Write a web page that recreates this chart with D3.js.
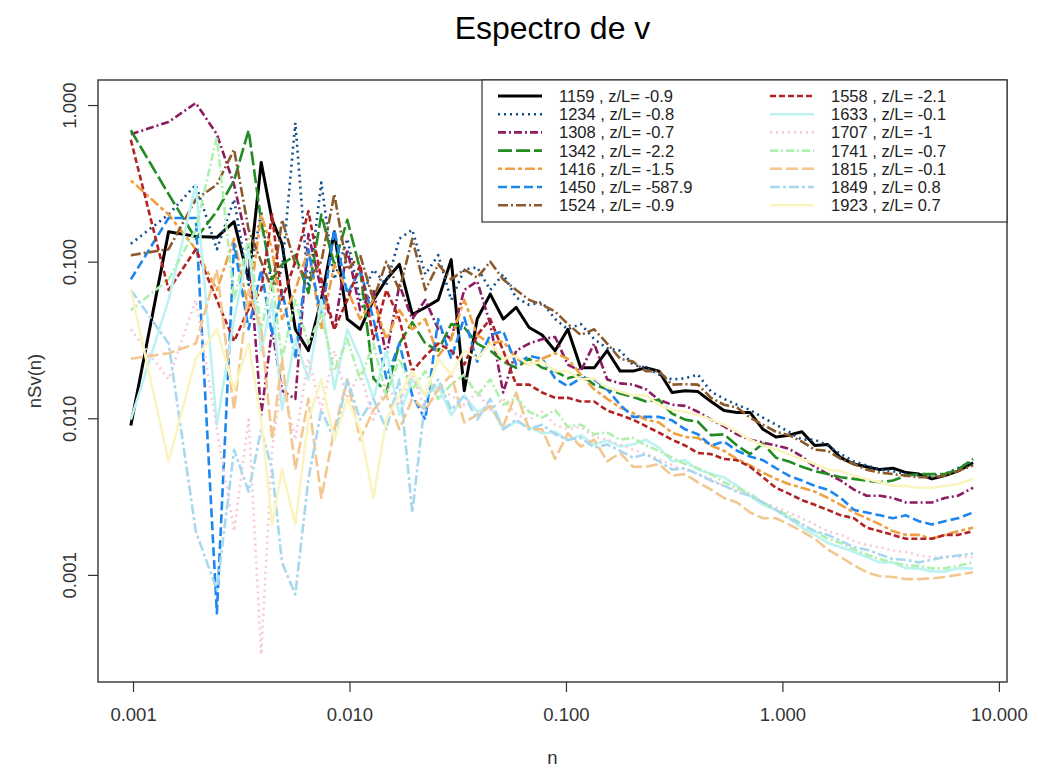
<!DOCTYPE html>
<html>
<head>
<meta charset="utf-8">
<script src="https://cdn.jsdelivr.net/npm/d3@7"></script>
<style>
  body { margin: 0; background: #ffffff; }
  svg { display: block; }
  text { font-family: "Liberation Sans", Arial, sans-serif; }
</style>
</head>
<body>
<svg id="chart" width="1038" height="769"></svg>
<script>
// Frequencies n shared by every spectrum
const freq = [0.000977,0.00146,0.00195,0.00244,0.00293,0.00342,0.00391,0.00439,0.00488,0.00562,
  0.00646,0.00741,0.00851,0.00977,0.0112,0.0129,0.0148,0.0170,0.0195,0.0224,
  0.0257,0.0295,0.0339,0.0389,0.0447,0.0513,0.0589,0.0676,0.0776,0.0891,
  0.102,0.117,0.135,0.155,0.178,0.204,0.234,0.269,0.309,0.355,
  0.407,0.468,0.537,0.617,0.708,0.813,0.933,1.07,1.23,1.41,
  1.62,1.86,2.14,2.45,2.82,3.24,3.72,4.27,4.90,5.62,
  6.46,7.60];

// nSv(n) for each run
const s1159 = [0.009,0.155,0.145,0.143,0.18,0.077,0.43,0.185,0.13,0.037,
  0.027,0.057,0.155,0.043,0.037,0.057,0.077,0.096,0.046,0.051,
  0.057,0.103,0.015,0.043,0.062,0.043,0.051,0.038,0.034,0.027,
  0.037,0.021,0.021,0.027,0.020,0.020,0.021,0.020,0.0146,0.015,
  0.0148,0.0128,0.0112,0.0109,0.0109,0.0085,0.0076,0.0078,0.0082,0.0067,
  0.0068,0.0056,0.0051,0.0049,0.0047,0.0048,0.0045,0.0044,0.0041,0.0043,
  0.0046,0.0052];
const s1234 = [0.13,0.20,0.31,0.12,0.25,0.071,0.21,0.066,0.089,0.77,
  0.066,0.32,0.077,0.14,0.057,0.089,0.071,0.14,0.16,0.083,
  0.11,0.057,0.089,0.092,0.066,0.083,0.059,0.053,0.055,0.043,
  0.037,0.040,0.032,0.028,0.027,0.022,0.021,0.019,0.0177,0.018,
  0.019,0.0148,0.0133,0.0122,0.0113,0.0101,0.0091,0.0082,0.0073,0.0073,
  0.0067,0.0059,0.0053,0.0050,0.0047,0.0046,0.0044,0.0043,0.0043,0.0044,
  0.0048,0.0053];
const s1308 = [0.65,0.78,1.03,0.65,0.31,0.12,0.0105,0.037,0.015,0.0133,
  0.15,0.066,0.037,0.12,0.049,0.066,0.025,0.071,0.043,0.057,
  0.037,0.032,0.066,0.075,0.040,0.0146,0.027,0.030,0.032,0.033,
  0.022,0.020,0.030,0.0177,0.0167,0.0164,0.0153,0.0131,0.0122,0.012,
  0.011,0.0098,0.0089,0.0079,0.0073,0.0070,0.0067,0.0064,0.0057,0.0049,
  0.0044,0.0040,0.0035,0.0032,0.0032,0.0031,0.0029,0.0029,0.0029,0.0031,
  0.0032,0.0036];
const s1342 = [0.69,0.27,0.14,0.21,0.33,0.69,0.18,0.077,0.096,0.11,
  0.063,0.20,0.096,0.185,0.089,0.018,0.0146,0.030,0.041,0.030,
  0.027,0.040,0.038,0.030,0.027,0.023,0.021,0.024,0.021,0.020,
  0.018,0.019,0.0164,0.0153,0.0144,0.0137,0.0128,0.0131,0.0107,0.0098,
  0.0095,0.0078,0.0079,0.0067,0.0059,0.0069,0.0056,0.0053,0.0049,0.0046,
  0.0044,0.0042,0.0041,0.0040,0.0039,0.0040,0.0043,0.0044,0.0044,0.0044,
  0.0047,0.0055];
const s1416 = [0.33,0.20,0.12,0.066,0.14,0.049,0.20,0.12,0.043,0.066,
  0.12,0.037,0.096,0.066,0.043,0.057,0.032,0.049,0.037,0.043,
  0.025,0.032,0.057,0.034,0.030,0.031,0.024,0.022,0.024,0.026,
  0.024,0.019,0.0153,0.0133,0.0117,0.0108,0.0098,0.0094,0.0081,0.0076,
  0.0075,0.0067,0.0062,0.0055,0.0050,0.0045,0.0041,0.0038,0.0036,0.0034,
  0.0031,0.0028,0.0025,0.0023,0.0021,0.0019,0.0018,0.0018,0.0017,0.0018,
  0.0019,0.0020];
const s1450 = [0.077,0.19,0.19,0.00057,0.13,0.037,0.089,0.034,0.066,0.024,
  0.12,0.043,0.16,0.062,0.089,0.043,0.018,0.030,0.014,0.0098,
  0.043,0.024,0.044,0.023,0.034,0.036,0.022,0.025,0.024,0.018,
  0.016,0.018,0.0177,0.0153,0.0122,0.0102,0.0102,0.0102,0.0097,0.0085,
  0.0079,0.0067,0.0071,0.0062,0.0057,0.0054,0.0048,0.0043,0.0040,0.0037,
  0.0035,0.0031,0.0026,0.0025,0.0024,0.0023,0.0024,0.0022,0.0021,0.0022,
  0.0023,0.0025];
const s1524 = [0.11,0.12,0.25,0.31,0.52,0.16,0.10,0.066,0.185,0.096,
  0.077,0.10,0.27,0.089,0.11,0.057,0.10,0.066,0.14,0.066,
  0.096,0.077,0.089,0.079,0.10,0.077,0.066,0.057,0.053,0.048,
  0.040,0.034,0.037,0.030,0.024,0.023,0.020,0.020,0.0164,0.0165,
  0.0164,0.0135,0.0122,0.0117,0.0101,0.0091,0.0082,0.0078,0.0071,0.0063,
  0.0062,0.0055,0.0051,0.0047,0.0045,0.0044,0.0043,0.0042,0.0042,0.0043,
  0.0046,0.0050];
const s1558 = [0.60,0.066,0.12,0.057,0.031,0.050,0.066,0.20,0.057,0.10,
  0.21,0.077,0.037,0.057,0.096,0.032,0.066,0.043,0.020,0.025,
  0.030,0.027,0.022,0.034,0.043,0.027,0.0164,0.0164,0.0146,0.0135,
  0.0135,0.0128,0.0128,0.0112,0.0105,0.0098,0.0089,0.0081,0.0073,0.0067,
  0.0060,0.0059,0.0055,0.0054,0.0049,0.0042,0.0036,0.0033,0.0030,0.0028,
  0.0026,0.0024,0.0023,0.0020,0.0019,0.0018,0.0017,0.0017,0.0017,0.0018,
  0.0018,0.0019];
const s1633 = [0.0098,0.057,0.31,0.0091,0.043,0.12,0.027,0.057,0.0113,0.032,
  0.0177,0.057,0.0153,0.037,0.024,0.0133,0.027,0.0105,0.0177,0.014,
  0.016,0.0105,0.014,0.011,0.012,0.0085,0.0095,0.0088,0.0080,0.0082,
  0.0072,0.0078,0.0068,0.0072,0.0066,0.0068,0.0073,0.0065,0.0053,0.0054,
  0.0047,0.0044,0.0042,0.0037,0.0032,0.0028,0.0026,0.0023,0.0020,0.0018,
  0.0016,0.0015,0.0014,0.0013,0.0012,0.0012,0.0011,0.0011,0.00105,0.00105,
  0.0011,0.0011];
const s1707 = [0.037,0.0177,0.057,0.0085,0.0019,0.0098,0.00031,0.0063,0.0177,0.0073,
  0.024,0.0113,0.027,0.0133,0.020,0.0098,0.0164,0.0122,0.019,0.0113,
  0.0153,0.014,0.0122,0.0148,0.0113,0.0133,0.0105,0.0098,0.011,0.0091,
  0.0085,0.0088,0.0076,0.0073,0.0068,0.0063,0.0059,0.0055,0.0050,0.0047,
  0.0044,0.0041,0.0037,0.0035,0.0032,0.0029,0.0027,0.0025,0.0023,0.0021,
  0.0019,0.0018,0.00165,0.00155,0.0015,0.00143,0.0014,0.00133,0.0013,0.0013,
  0.0013,0.0013];
const s1741 = [0.049,0.077,0.16,0.63,0.057,0.14,0.037,0.077,0.024,0.057,
  0.030,0.046,0.020,0.032,0.0177,0.030,0.014,0.024,0.0153,0.020,
  0.0133,0.0164,0.019,0.014,0.0177,0.0122,0.0135,0.011,0.0101,0.0113,
  0.0088,0.0091,0.0079,0.0081,0.0073,0.0075,0.0067,0.0062,0.0056,0.0051,
  0.0048,0.0044,0.0039,0.0036,0.0033,0.0029,0.0026,0.0024,0.0021,0.0019,
  0.0017,0.0016,0.00145,0.00135,0.00126,0.0012,0.00115,0.00114,0.0011,0.0011,
  0.00114,0.0012];
const s1815 = [0.024,0.026,0.030,0.089,0.0113,0.066,0.037,0.0073,0.024,0.0047,
  0.0133,0.0031,0.0085,0.0177,0.0073,0.0113,0.014,0.0085,0.0133,0.0113,
  0.0153,0.019,0.0094,0.0105,0.0119,0.0089,0.0146,0.0085,0.0085,0.0055,
  0.0080,0.0066,0.0073,0.0053,0.0060,0.0049,0.0049,0.0051,0.0043,0.0044,
  0.0039,0.0035,0.0031,0.0029,0.0025,0.0023,0.0023,0.0021,0.0019,0.0017,
  0.00145,0.0013,0.00115,0.00104,0.00098,0.00097,0.00094,0.00094,0.00095,0.00097,
  0.0010,0.00104];
const s1849 = [0.066,0.030,0.0019,0.0008,0.0063,0.0034,0.0085,0.0047,0.0012,0.00075,
  0.0041,0.0113,0.0073,0.0177,0.0098,0.0133,0.0085,0.0177,0.0025,0.0133,
  0.0177,0.0113,0.014,0.0098,0.0133,0.0085,0.0098,0.0085,0.0091,0.0079,
  0.0073,0.0075,0.0065,0.0068,0.0062,0.0056,0.0059,0.0053,0.0047,0.0048,
  0.0044,0.0040,0.0037,0.0034,0.0032,0.0029,0.0026,0.0023,0.0021,0.0019,
  0.0018,0.00165,0.0015,0.00145,0.00135,0.00126,0.00125,0.0012,0.00125,0.0013,
  0.00133,0.00137];
const s1923 = [0.066,0.0053,0.024,0.037,0.0153,0.030,0.0098,0.0021,0.0047,0.0021,
  0.0098,0.0177,0.0073,0.0133,0.0085,0.0031,0.0098,0.014,0.020,0.014,
  0.024,0.019,0.027,0.024,0.030,0.024,0.025,0.022,0.023,0.020,
  0.020,0.0177,0.018,0.0157,0.0148,0.014,0.014,0.0122,0.0113,0.011,
  0.0105,0.0098,0.0091,0.0082,0.0073,0.0067,0.0063,0.0059,0.0055,0.0051,
  0.0047,0.0046,0.0043,0.0041,0.0039,0.0037,0.0037,0.0036,0.0036,0.0037,
  0.0038,0.0041];

const runIds = ["1159","1234","1308","1342","1416","1450","1524",
                "1558","1633","1707","1741","1815","1849","1923"];
const stability = ["-0.9","-0.8","-0.7","-2.2","-1.5","-587.9","-0.9",
                   "-2.1","-0.1","-1","-0.7","-0.1","0.8","0.7"];
const runValues = [s1159,s1234,s1308,s1342,s1416,s1450,s1524,
                   s1558,s1633,s1707,s1741,s1815,s1849,s1923];

const xTicks = [0.001, 0.01, 0.1, 1, 10];
const xTickLabels = ["0.001", "0.010", "0.100", "1.000", "10.000"];
const yTicks = [0.001, 0.01, 0.1, 1];
const yTickLabels = ["0.001", "0.010", "0.100", "1.000"];

// Line appearance per run
const colors = ["#000000","#104E8B","#8B1C62","#228B22","#F0A040","#1C86EE","#8B5A2B",
                "#B22222","#BDF2F2","#F8C8D8","#AEF0AE","#F2C890","#A8D8EE","#FAF5C0"];
const dashes = [null,"2,4","8,3,2,3","14,4","4,3,10,3","9,4","10,3,2,3",
                "6,3",null,"2,4","8,3,2,3","12,4","10,3,3,3",null];

const plot = { left: 98, right: 1007, top: 80, bottom: 682 };

const svg = d3.select("#chart");
const x = d3.scaleLog().domain([0.000689, 10.9]).range([plot.left, plot.right]);
const y = d3.scaleLog().domain([0.000207, 1.445]).range([plot.bottom, plot.top]);

svg.append("defs").append("clipPath").attr("id", "plotArea")
  .append("rect")
  .attr("x", plot.left).attr("y", plot.top)
  .attr("width", plot.right - plot.left).attr("height", plot.bottom - plot.top);

// Spectra
const line = d3.line()
  .x((d, i) => x(freq[i]))
  .y(d => y(d));

const lines = svg.append("g").attr("clip-path", "url(#plotArea)");
runValues.forEach((vals, k) => {
  lines.append("path")
    .datum(vals)
    .attr("d", line)
    .attr("fill", "none")
    .attr("stroke", colors[k])
    .attr("stroke-width", k === 0 ? 3 : 2.6)
    .attr("stroke-linejoin", "round")
    .attr("stroke-dasharray", dashes[k]);
});

// Axes
const axisColor = "#333333";
const xAxis = d3.axisBottom(x)
  .tickValues(xTicks)
  .tickFormat((d, i) => xTickLabels[i])
  .tickSize(10)
  .tickPadding(16);
const gx = svg.append("g").attr("transform", `translate(0,${plot.bottom})`).call(xAxis);
gx.select(".domain").remove();
gx.selectAll(".tick line").attr("stroke", axisColor).attr("stroke-width", 1.2);
gx.selectAll(".tick text").attr("fill", axisColor).attr("font-size", 18.5);

const yAxis = d3.axisLeft(y)
  .tickValues(yTicks)
  .tickFormat((d, i) => yTickLabels[i])
  .tickSize(10);
const gy = svg.append("g").attr("transform", `translate(${plot.left},0)`).call(yAxis);
gy.select(".domain").remove();
gy.selectAll(".tick line").attr("stroke", axisColor).attr("stroke-width", 1.2);
gy.selectAll(".tick text")
  .attr("fill", axisColor)
  .attr("font-size", 18.5)
  .attr("text-anchor", "middle")
  .attr("dy", 0)
  .attr("x", 0)
  .attr("transform", "translate(-22,0) rotate(-90)");

// Plot frame
svg.append("rect")
  .attr("x", plot.left).attr("y", plot.top)
  .attr("width", plot.right - plot.left).attr("height", plot.bottom - plot.top)
  .attr("fill", "none").attr("stroke", axisColor).attr("stroke-width", 1.4);

// Titles
svg.append("text")
  .attr("x", (plot.left + plot.right) / 2).attr("y", 39)
  .attr("text-anchor", "middle").attr("font-size", 32).attr("fill", "#000")
  .text("Espectro de v");
svg.append("text")
  .attr("x", (plot.left + plot.right) / 2).attr("y", 764)
  .attr("text-anchor", "middle").attr("font-size", 18.5).attr("fill", axisColor)
  .text("n");
svg.append("text")
  .attr("transform", `translate(41,${(plot.top + plot.bottom) / 2}) rotate(-90)`)
  .attr("text-anchor", "middle").attr("font-size", 18.5).attr("fill", axisColor)
  .text("nSv(n)");

// Legend
const legend = { left: 482, top: 80, right: 1007, bottom: 222 };
const lg = svg.append("g");
lg.append("rect")
  .attr("x", legend.left).attr("y", legend.top)
  .attr("width", legend.right - legend.left).attr("height", legend.bottom - legend.top)
  .attr("fill", "#ffffff").attr("stroke", axisColor).attr("stroke-width", 1.2);
runIds.forEach((id, k) => {
  const col = k < 7 ? 0 : 1;
  const row = k % 7;
  const lx = col === 0 ? 498 : 770;
  const ly = 96 + row * 18.2;
  lg.append("line")
    .attr("x1", lx).attr("x2", lx + 44).attr("y1", ly).attr("y2", ly)
    .attr("stroke", colors[k])
    .attr("stroke-width", k === 0 ? 3 : 2.6)
    .attr("stroke-dasharray", dashes[k]);
  lg.append("text")
    .attr("x", lx + 61).attr("y", ly + 6)
    .attr("font-size", 16.5).attr("fill", "#222")
    .text(`${id} , z/L= ${stability[k]}`);
});
</script>
</body>
</html>
